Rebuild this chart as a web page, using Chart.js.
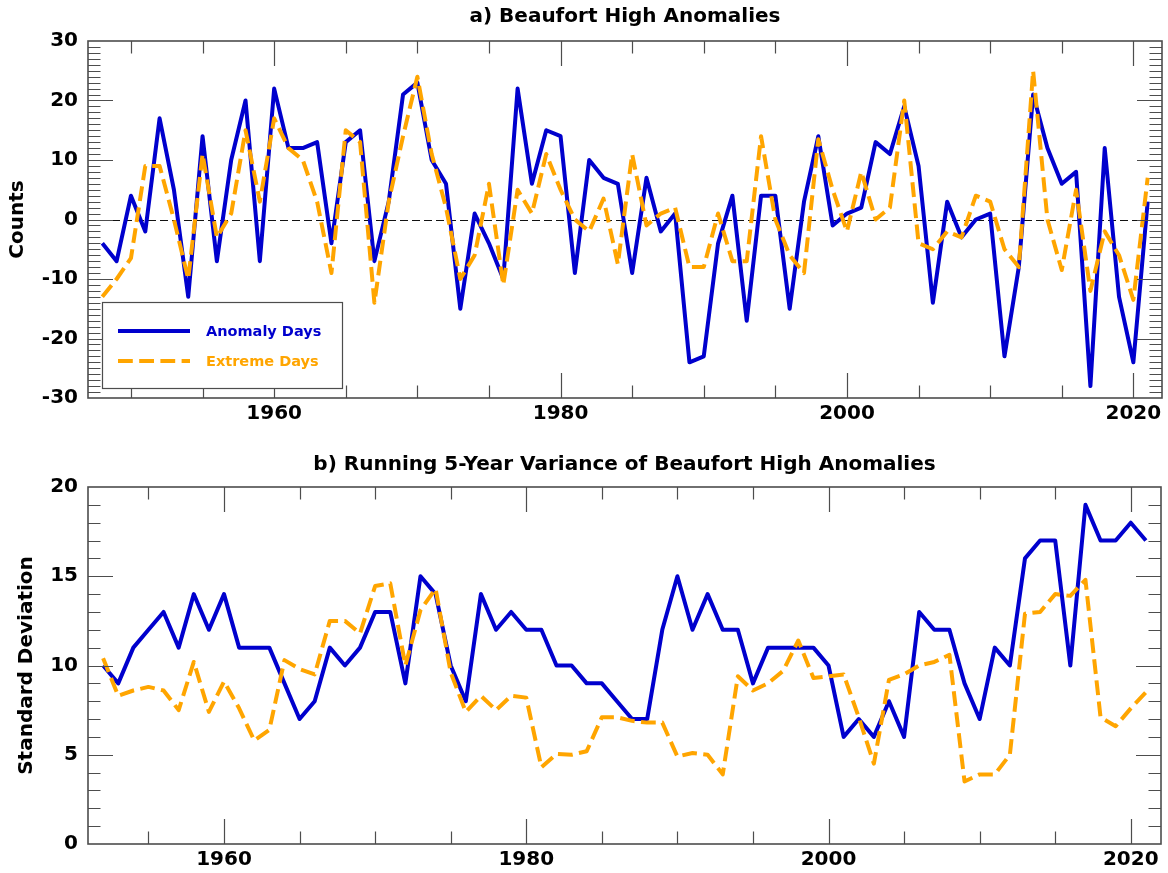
<!DOCTYPE html>
<html>
<head>
<meta charset="utf-8">
<script src="https://cdn.jsdelivr.net/npm/chart.js@4.4.1/dist/chart.umd.min.js"></script>
<style>
  html, body { margin: 0; padding: 0; background: #fff; }
  #wrap { position: relative; width: 1168px; height: 873px; }
  canvas { position: absolute; left: 0; }
  #top { top: 0; }
  #bottom { top: 436px; }
</style>
</head>
<body>
<div id="wrap">
  <canvas id="top" width="1168" height="436"></canvas>
  <canvas id="bottom" width="1168" height="437"></canvas>
</div>
<script>
// a) yearly counts, 1948-2021
const yearsA = [
  1948, 1949, 1950, 1951, 1952, 1953, 1954, 1955, 1956, 1957,
  1958, 1959, 1960, 1961, 1962, 1963, 1964, 1965, 1966, 1967,
  1968, 1969, 1970, 1971, 1972, 1973, 1974, 1975, 1976, 1977,
  1978, 1979, 1980, 1981, 1982, 1983, 1984, 1985, 1986, 1987,
  1988, 1989, 1990, 1991, 1992, 1993, 1994, 1995, 1996, 1997,
  1998, 1999, 2000, 2001, 2002, 2003, 2004, 2005, 2006, 2007,
  2008, 2009, 2010, 2011, 2012, 2013, 2014, 2015, 2016, 2017,
  2018, 2019, 2020, 2021
];
const anomalyDays = [
  -4, -7, 4, -2, 17, 5, -13, 14, -7, 10,
  20, -7, 22, 12, 12, 13, -4, 13, 15, -7,
  3, 21, 23, 10, 6, -15, 1, -4, -10, 22,
  6, 15, 14, -9, 10, 7, 6, -9, 7, -2,
  1, -24, -23, -4, 4, -17, 4, 4, -15, 3,
  14, -1, 1, 2, 13, 11, 19, 9, -14, 3,
  -3, 0, 1, -23, -8, 21, 12, 6, 8, -28,
  12, -13, -24, 3
];
const extremeDays = [
  -13, -10, -6.5, 9, 9, 0, -10, 11, -3, 1,
  15, 3, 17, 12, 10, 3, -9, 15, 13, -14,
  3, 14, 24, 11, 2, -10, -6, 6, -11, 5,
  1, 11, 5, 0, -2, 3.5, -7.5, 11, -1, 1,
  2, -8, -8, 1, -7, -7, 14, 0, -6, -9,
  13.5, 5, -2, 8, 0, 2, 20, -4, -5, -2,
  -3, 4, 3, -5, -8, 25, 0, -8.5, 5, -12,
  -2, -6, -13.5, 7
];

// b) running 5-year standard deviation, 1952-2021
const yearsB = [
  1952, 1953, 1954, 1955, 1956, 1957, 1958, 1959, 1960, 1961,
  1962, 1963, 1964, 1965, 1966, 1967, 1968, 1969, 1970, 1971,
  1972, 1973, 1974, 1975, 1976, 1977, 1978, 1979, 1980, 1981,
  1982, 1983, 1984, 1985, 1986, 1987, 1988, 1989, 1990, 1991,
  1992, 1993, 1994, 1995, 1996, 1997, 1998, 1999, 2000, 2001,
  2002, 2003, 2004, 2005, 2006, 2007, 2008, 2009, 2010, 2011,
  2012, 2013, 2014, 2015, 2016, 2017, 2018, 2019, 2020, 2021
];
const sdAnomaly = [
  10, 9, 11, 12, 13, 11, 14, 12, 14, 11,
  11, 11, 9, 7, 8, 11, 10, 11, 13, 13,
  9, 15, 14, 10, 8, 14, 12, 13, 12, 12,
  10, 10, 9, 9, 8, 7, 7, 12, 15, 12,
  14, 12, 12, 9, 11, 11, 11, 11, 10, 6,
  7, 6, 8, 6, 13, 12, 12, 9, 7, 11,
  10, 16, 17, 17, 10, 19, 17, 17, 18, 17
];
const sdExtreme = [
  10.4, 8.3, 8.6, 8.8, 8.6, 7.5, 10.2, 7.4, 9.1, 7.6,
  5.8, 6.4, 10.3, 9.8, 9.5, 12.5, 12.5, 11.8, 14.45, 14.6,
  10.0, 13.1, 14.3, 9.6, 7.4, 8.3, 7.5, 8.3, 8.2, 4.3,
  5.05, 5.0, 5.2, 7.1, 7.1, 6.9, 6.8, 6.8, 4.9, 5.1,
  5.0, 3.9, 9.4, 8.6, 9.0, 9.7, 11.4, 9.3, 9.4, 9.5,
  7.1, 4.5, 9.2, 9.5, 10.0, 10.2, 10.6, 3.5, 3.9, 3.9,
  5.0, 12.9, 13.0, 14.0, 13.9, 14.8, 7.1, 6.6, 7.6, 8.5
];

const xTickYears = [1960, 1980, 2000, 2020];
const yTicksA = [-30, -20, -10, 0, 10, 20, 30];
const yTicksB = [0, 5, 10, 15, 20];

const BLUE = '#0000cd';
const ORANGE = '#ffa500';
const FRAME = '#4d4d4d';

Chart.defaults.font.family = "'DejaVu Sans', sans-serif";
Chart.defaults.font.weight = 'bold';
Chart.defaults.font.size = 20;
Chart.defaults.color = '#000';

function pts(xs, ys) {
  return xs.map((x, i) => ({ x: x, y: ys[i] }));
}

// box round the plot area with inward ticks on all four sides
const framePlugin = {
  id: 'frame',
  afterDatasetsDraw(chart, args, opts) {
    const { ctx, chartArea: a, scales: { x, y } } = chart;
    const xMajor = x.ticks.map(t => t.value);
    const yMajor = y.ticks.map(t => t.value);
    ctx.save();
    ctx.strokeStyle = FRAME;
    ctx.lineWidth = 1.2;
    ctx.beginPath();
    for (let v = Math.ceil(x.min / 5) * 5; v < x.max; v += 5) {
      if (v <= x.min) continue;
      const px = Math.round(x.getPixelForValue(v)) + 0.5;
      const len = xMajor.includes(v) ? 25 : 12.5;
      ctx.moveTo(px, a.bottom); ctx.lineTo(px, a.bottom - len);
      ctx.moveTo(px, a.top); ctx.lineTo(px, a.top + len);
    }
    for (let v = y.min + 1; v < y.max; v += 1) {
      const py = Math.round(y.getPixelForValue(v)) + 0.5;
      const len = yMajor.includes(v) ? 25 : 12.5;
      ctx.moveTo(a.left, py); ctx.lineTo(a.left + len, py);
      ctx.moveTo(a.right, py); ctx.lineTo(a.right - len, py);
    }
    ctx.stroke();
    ctx.lineWidth = 1.6;
    ctx.strokeRect(a.left, a.top, a.right - a.left, a.bottom - a.top);
    ctx.restore();
  }
};

// dashed zero line under the series
const zeroPlugin = {
  id: 'zero',
  beforeDatasetsDraw(chart) {
    const { ctx, chartArea: a, scales: { y } } = chart;
    const py = Math.round(y.getPixelForValue(0)) + 0.5;
    ctx.save();
    ctx.strokeStyle = '#111';
    ctx.lineWidth = 1.2;
    ctx.setLineDash([8, 4]);
    ctx.beginPath();
    ctx.moveTo(a.left, py);
    ctx.lineTo(a.right, py);
    ctx.stroke();
    ctx.restore();
  }
};

// boxed legend in the lower left corner of panel a
const boxLegend = {
  id: 'boxLegend',
  afterDraw(chart) {
    const { ctx, chartArea: a } = chart;
    const bx = a.left + 14, by = a.bottom - 96, bw = 240, bh = 86;
    ctx.save();
    ctx.fillStyle = '#fff';
    ctx.fillRect(bx, by, bw, bh);
    ctx.strokeStyle = FRAME;
    ctx.lineWidth = 1.2;
    ctx.strokeRect(bx + 0.5, by + 0.5, bw, bh);
    chart.data.datasets.forEach((ds, i) => {
      const ly = by + 29 + i * 30;
      ctx.strokeStyle = ds.borderColor;
      ctx.lineWidth = 4;
      ctx.setLineDash(ds.borderDash || []);
      ctx.beginPath();
      ctx.moveTo(bx + 16, ly);
      ctx.lineTo(bx + 88, ly);
      ctx.stroke();
      ctx.setLineDash([]);
      ctx.fillStyle = ds.borderColor;
      ctx.font = "bold 14.5px 'DejaVu Sans', sans-serif";
      ctx.textBaseline = 'middle';
      ctx.fillText(ds.label, bx + 104, ly + 1);
    });
    ctx.restore();
  }
};

function panel(canvasId, title, yTitle, yMin, yMax, yTicks, xMin, xs, blue, orange, cfg) {
  return new Chart(document.getElementById(canvasId), {
    type: 'line',
    data: {
      datasets: [
        {
          label: 'Anomaly Days',
          data: pts(xs, blue),
          borderColor: BLUE,
          borderWidth: 4,
          borderJoinStyle: 'round',
          pointRadius: 0,
          tension: 0,
          order: 1
        },
        {
          label: 'Extreme Days',
          data: pts(xs, orange),
          borderColor: ORANGE,
          borderWidth: 4,
          borderDash: [14.8, 6.4],
          borderJoinStyle: 'round',
          pointRadius: 0,
          tension: 0,
          order: 0
        }
      ]
    },
    options: {
      responsive: false,
      animation: false,
      devicePixelRatio: 1,
      layout: { padding: { left: 0, right: cfg.padRight, top: 0, bottom: 0 } },
      plugins: {
        legend: { display: false },
        tooltip: { enabled: false },
        title: {
          display: true,
          text: title,
          fullSize: false,
          font: { size: 20, weight: 'bold' },
          color: '#000',
          padding: cfg.titlePad
        }
      },
      scales: {
        x: {
          type: 'linear',
          min: xMin,
          max: 2022,
          grid: { display: false, drawTicks: false },
          border: { display: false },
          afterBuildTicks: s => { s.ticks = xTickYears.map(v => ({ value: v })); },
          afterFit: s => { s.height = cfg.xHeight; },
          ticks: {
            maxRotation: 0,
            autoSkip: false,
            padding: cfg.xLabelPad,
            callback: v => String(v)
          }
        },
        y: {
          min: yMin,
          max: yMax,
          grid: { display: false, drawTicks: false },
          border: { display: false },
          afterBuildTicks: s => { s.ticks = yTicks.map(v => ({ value: v })); },
          afterFit: s => { s.width = 88; },
          ticks: { padding: 10, callback: v => String(v) },
          title: {
            display: true,
            text: yTitle,
            font: { size: 20, weight: 'bold' },
            padding: { top: cfg.yTitlePad, bottom: 0 }
          }
        }
      }
    },
    plugins: cfg.plugins
  });
}

panel('top', 'a) Beaufort High Anomalies', 'Counts', -30, 30, yTicksA, 1947,
  yearsA, anomalyDays, extremeDays, {
    padRight: 6,
    titlePad: { top: 5, bottom: 12 },
    xHeight: 38,
    xLabelPad: 4,
    yTitlePad: 6,
    plugins: [zeroPlugin, framePlugin, boxLegend]
  });

panel('bottom', 'b) Running 5-Year Variance of Beaufort High Anomalies', 'Standard Deviation',
  0, 20, yTicksB, 1951, yearsB, sdAnomaly, sdExtreme, {
    padRight: 7,
    titlePad: { top: 17, bottom: 10 },
    xHeight: 29,
    xLabelPad: 4,
    yTitlePad: 15,
    plugins: [framePlugin]
  });
</script>
</body>
</html>
